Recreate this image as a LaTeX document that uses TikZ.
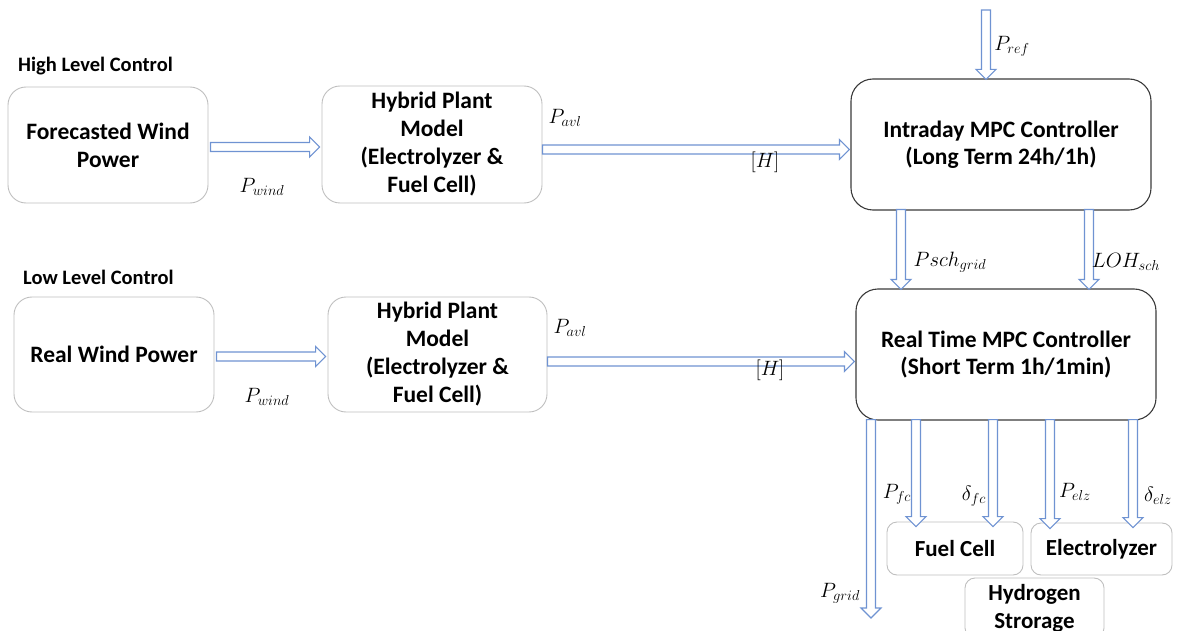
\documentclass[tikz,border=0pt]{standalone}
\usepackage{fontspec}
\setmainfont{Carlito}
\usetikzlibrary{calc}
\definecolor{arrblue}{HTML}{6F93D2}
\definecolor{boxgrey}{HTML}{BFBFBF}
\definecolor{boxdark}{HTML}{3A3A3A}
\newcommand\harrow[2]{%
 \draw[arr] let \p1=(#1), \p2=(#2) in
 (\x1,\y1+4.5pt) -- (\x2-10pt,\y1+4.5pt) -- (\x2-10pt,\y1+10pt) -- (\x2,\y1)
 -- (\x2-10pt,\y1-10pt) -- (\x2-10pt,\y1-4.5pt) -- (\x1,\y1-4.5pt) -- cycle;}
\newcommand\varrow[2]{%
 \draw[arr] let \p1=(#1), \p2=(#2) in
 (\x1-4.5pt,\y1) -- (\x1-4.5pt,\y2+10pt) -- (\x1-10pt,\y2+10pt) -- (\x1,\y2)
 -- (\x1+10pt,\y2+10pt) -- (\x1+4.5pt,\y2+10pt) -- (\x1+4.5pt,\y1) -- cycle;}
\tikzset{
 arr/.style={draw=arrblue, line width=1.1pt, fill=white, line join=miter},
 softbox/.style={draw=boxgrey, line width=0.9pt, rounded corners=18pt, align=center,
   inner sep=0pt, font=\fontsize{23.5}{28}\selectfont\bfseries},
 hardbox/.style={draw=boxdark, line width=1.1pt, rounded corners=22pt, align=center,
   inner sep=0pt, font=\fontsize{23.5}{27}\selectfont\bfseries},
 smallbox/.style={draw=boxgrey, line width=0.9pt, rounded corners=10pt, align=center,
   inner sep=0pt, font=\fontsize{23}{28}\selectfont\bfseries},
 heading/.style={anchor=west, inner sep=0pt, font=\fontsize{20.5}{24}\selectfont\bfseries},
 lab/.style={inner sep=0pt, font=\fontsize{19.5}{22}\selectfont},
}
\begin{document}
\begin{tikzpicture}[x=1pt,y=-1pt]
\useasboundingbox (0,0) rectangle (1178,631);
% headings
\node[heading] (hlc) at (18,66) {High Level Control};
\node[heading] (llc) at (23,277) {Low Level Control};
% boxes
\node[softbox, minimum width=200pt, minimum height=116pt] (fwp) at (108,145) {Forecasted Wind\\Power};
\node[softbox, minimum width=220pt, minimum height=117pt] (hp1) at (432,144.5) {Hybrid Plant\\Model\\(Electrolyzer \&\\Fuel Cell)};
\node[hardbox, minimum width=300pt, minimum height=131pt] (mpc1) at (1001,144.5) {Intraday MPC Controller\\(Long Term 24h/1h)};
\node[softbox, minimum width=200pt, minimum height=115pt] (rwp) at (114,354.5) {Real Wind Power};
\node[softbox, minimum width=219pt, minimum height=115pt] (hp2) at (437.5,354.5) {Hybrid Plant\\Model\\(Electrolyzer \&\\Fuel Cell)};
\node[hardbox, minimum width=300pt, minimum height=131pt] (mpc2) at (1006,354.5) {Real Time MPC Controller\\(Short Term 1h/1min)};
\node[smallbox, minimum width=136pt, minimum height=53pt] (fc) at (955,548.5) {Fuel Cell};
\node[smallbox, minimum width=141pt, minimum height=52pt] (elz) at (1101.5,549) {Electrolyzer};
\node[smallbox, minimum width=139pt, minimum height=60pt] (hs) at (1034.5,608) {Hydrogen\\Strorage};
% free ends
\coordinate (prefstart) at (986,10);
\coordinate (gridend) at (871,618);
% arrows
\harrow{[xshift=2pt,yshift=-2pt]fwp.east}{[xshift=-2pt]hp1.west}
\harrow{[yshift=-5pt]hp1.east}{[xshift=-1pt]mpc1.west}
\harrow{[xshift=2pt,yshift=-2pt]rwp.east}{[xshift=-2pt]hp2.west}
\harrow{[yshift=-7pt]hp2.east}{[xshift=-1pt]mpc2.west}
\varrow{prefstart}{[yshift=-1pt]mpc1.north}
\varrow{[xshift=-100pt,yshift=1pt]mpc1.south}{[yshift=-1pt]mpc2.north}
\varrow{[xshift=88pt,yshift=1pt]mpc1.south}{[yshift=-1pt]mpc2.north}
\varrow{[xshift=-135pt,yshift=1pt]mpc2.south}{gridend}
\varrow{[xshift=-90pt,yshift=1pt]mpc2.south}{[yshift=-5pt]fc.north}
\varrow{[xshift=-13pt,yshift=1pt]mpc2.south}{[yshift=-5pt]fc.north}
\varrow{[xshift=44pt,yshift=1pt]mpc2.south}{[yshift=-6pt]elz.north}
\varrow{[xshift=127pt,yshift=1pt]mpc2.south}{[yshift=-5pt]elz.north}
% labels
\node[lab] (l1) at (262,187) {$P_{wind}$};
\node[lab] (l2) at (565,118) {$P_{avl}$};
\node[lab] (l3) at (765,162) {$[H]$};
\node[lab] (l4) at (1012,46) {$P_{ref}$};
\node[lab] (l5) at (950,262) {$Psch_{grid}$};
\node[lab] (l6) at (1126,262) {$LOH_{sch}$};
\node[lab] (l7) at (267,397) {$P_{wind}$};
\node[lab] (l8) at (570,328) {$P_{avl}$};
\node[lab] (l9) at (770,370) {$[H]$};
\node[lab] (l10) at (897,494) {$P_{fc}$};
\node[lab] (l11) at (974,496) {$\delta_{fc}$};
\node[lab] (l12) at (1075,492) {$P_{elz}$};
\node[lab] (l13) at (1158,496) {$\delta_{elz}$};
\node[lab] (l14) at (840,593) {$P_{grid}$};
\end{tikzpicture}
\end{document}
